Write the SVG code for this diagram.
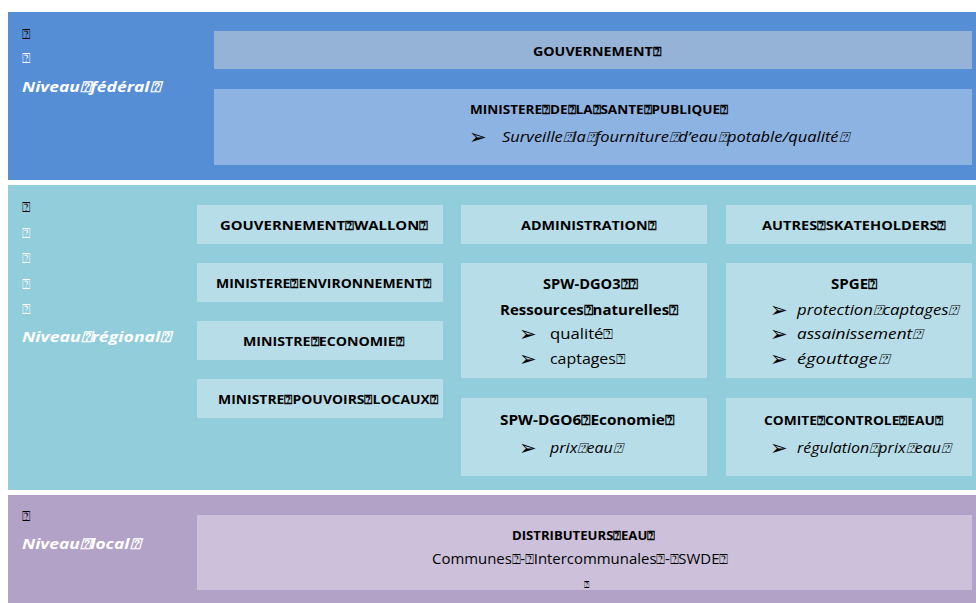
<svg xmlns="http://www.w3.org/2000/svg" width="976" height="603" viewBox="0 0 976 603">
<style>
text{font-family:"Open Sans","Liberation Sans",sans-serif;fill:#000}
.b{font-weight:bold;font-size:12px}
.b13{font-weight:bold;font-size:13.5px}
.i{font-style:italic;font-size:14px}
.r{font-size:14px}
.lab{font-style:italic;font-weight:bold;font-size:15px;fill:#fff}
.tw{font-size:14px;fill:#fff}
.tk{font-size:14px;fill:#000}
.bul{font-family:"DejaVu Sans",sans-serif;font-size:21px}
.fb1{fill:#95b3d7}.fb2{fill:#8db3e2}.rb{fill:#b7dde8}.lb{fill:#ccc0da}
</style>
<g id="band-federal">
<rect x="8" y="12" width="968" height="168" fill="#558ed5"/>
<text class="tk" x="22" y="39">⍰</text>
<text class="tw" x="22" y="63">⍰</text>
<text class="lab" x="22" y="92" textLength="138" lengthAdjust="spacingAndGlyphs">Niveau⍰fédéral⍰</text>
</g>
<g id="band-regional">
<rect x="8" y="185" width="968" height="305" fill="#92cddc"/>
<text class="tk" x="22" y="212">⍰</text>
<text class="tw" x="22" y="238">⍰</text>
<text class="tw" x="22" y="263">⍰</text>
<text class="tw" x="22" y="289">⍰</text>
<text class="tw" x="22" y="314">⍰</text>
<text class="lab" x="22" y="342" textLength="149" lengthAdjust="spacingAndGlyphs">Niveau⍰régional⍰</text>
</g>
<g id="band-local">
<rect x="8" y="495" width="968" height="108" fill="#b2a2c7"/>
<text class="tk" x="22" y="521">⍰</text>
<text class="lab" x="22" y="549" textLength="118" lengthAdjust="spacingAndGlyphs">Niveau⍰local⍰</text>
</g>
<g id="gouvernement">
<rect class="fb1" x="214" y="31" width="758" height="38"/>
<text class="b" x="533" y="56" textLength="128" lengthAdjust="spacingAndGlyphs">GOUVERNEMENT⍰</text>
</g>
<g id="ministere-sante">
<rect class="fb2" x="214" y="89" width="758" height="76"/>
<text class="b" x="470" y="114" textLength="258" lengthAdjust="spacingAndGlyphs">MINISTERE⍰DE⍰LA⍰SANTE⍰PUBLIQUE⍰</text>
<text class="bul" x="469" y="144">➢</text>
<text class="i" x="502" y="142" textLength="346" lengthAdjust="spacingAndGlyphs">Surveille⍰la⍰fourniture⍰d’eau⍰potable/qualité⍰</text>
</g>
<g id="gouvernement-wallon">
<rect class="rb" x="197" y="205" width="246" height="39"/>
<text class="b" x="220" y="230" textLength="208" lengthAdjust="spacingAndGlyphs">GOUVERNEMENT⍰WALLON⍰</text>
</g>
<g id="ministere-environnement">
<rect class="rb" x="197" y="263" width="246" height="39"/>
<text class="b" x="216" y="288" textLength="215" lengthAdjust="spacingAndGlyphs">MINISTERE⍰ENVIRONNEMENT⍰</text>
</g>
<g id="ministre-economie">
<rect class="rb" x="197" y="321" width="246" height="39"/>
<text class="b" x="243" y="346" textLength="161" lengthAdjust="spacingAndGlyphs">MINISTRE⍰ECONOMIE⍰</text>
</g>
<g id="ministre-pouvoirs-locaux">
<rect class="rb" x="197" y="379" width="246" height="39"/>
<text class="b" x="218" y="404" textLength="220" lengthAdjust="spacingAndGlyphs">MINISTRE⍰POUVOIRS⍰LOCAUX⍰</text>
</g>
<g id="administration">
<rect class="rb" x="461" y="205" width="246" height="39"/>
<text class="b" x="521" y="230" textLength="135" lengthAdjust="spacingAndGlyphs">ADMINISTRATION⍰</text>
</g>
<g id="spw-dgo3">
<rect class="rb" x="461" y="263" width="246" height="115"/>
<text class="b13" x="543" y="289" textLength="95" lengthAdjust="spacingAndGlyphs">SPW-DGO3⍰⍰</text>
<text class="b13" x="500" y="315" textLength="178" lengthAdjust="spacingAndGlyphs">Ressources⍰naturelles⍰</text>
<text class="bul" x="519" y="341">➢</text>
<text class="r" x="550" y="339" textLength="63" lengthAdjust="spacingAndGlyphs">qualité⍰</text>
<text class="bul" x="519" y="366">➢</text>
<text class="r" x="550" y="364" textLength="75" lengthAdjust="spacingAndGlyphs">captages⍰</text>
</g>
<g id="spw-dgo6">
<rect class="rb" x="461" y="398" width="246" height="78"/>
<text class="b13" x="500" y="425" textLength="174" lengthAdjust="spacingAndGlyphs">SPW-DGO6⍰Economie⍰</text>
<text class="bul" x="519" y="455">➢</text>
<text class="i" x="550" y="453" textLength="72" lengthAdjust="spacingAndGlyphs">prix⍰eau⍰</text>
</g>
<g id="autres-stakeholders">
<rect class="rb" x="726" y="205" width="246" height="39"/>
<text class="b" x="762" y="230" textLength="184" lengthAdjust="spacingAndGlyphs">AUTRES⍰SKATEHOLDERS⍰</text>
</g>
<g id="spge">
<rect class="rb" x="726" y="263" width="246" height="115"/>
<text class="b13" x="831" y="289" textLength="46" lengthAdjust="spacingAndGlyphs">SPGE⍰</text>
<text class="bul" x="770" y="317">➢</text>
<text class="i" x="797" y="315" textLength="161" lengthAdjust="spacingAndGlyphs">protection⍰captages⍰</text>
<text class="bul" x="770" y="341">➢</text>
<text class="i" x="797" y="339" textLength="125" lengthAdjust="spacingAndGlyphs">assainissement⍰</text>
<text class="bul" x="770" y="366">➢</text>
<text class="i" x="797" y="364" textLength="91" lengthAdjust="spacingAndGlyphs">égouttage⍰</text>
</g>
<g id="comite-controle-eau">
<rect class="rb" x="726" y="398" width="246" height="78"/>
<text class="b" x="764" y="425" textLength="179" lengthAdjust="spacingAndGlyphs">COMITE⍰CONTROLE⍰EAU⍰</text>
<text class="bul" x="770" y="455">➢</text>
<text class="i" x="797" y="453" textLength="153" lengthAdjust="spacingAndGlyphs">régulation⍰prix⍰eau⍰</text>
</g>
<g id="distributeurs-eau">
<rect class="lb" x="197" y="515" width="775" height="75"/>
<text class="b" x="512" y="540" textLength="143" lengthAdjust="spacingAndGlyphs">DISTRIBUTEURS⍰EAU⍰</text>
<text class="r" x="432" y="564" textLength="296" lengthAdjust="spacingAndGlyphs">Communes⍰-⍰Intercommunales⍰-⍰SWDE⍰</text>
<text class="tk" x="584" y="588" style="font-size:9px">⍰</text>
</g>
<g id="connectors"></g>
</svg>
